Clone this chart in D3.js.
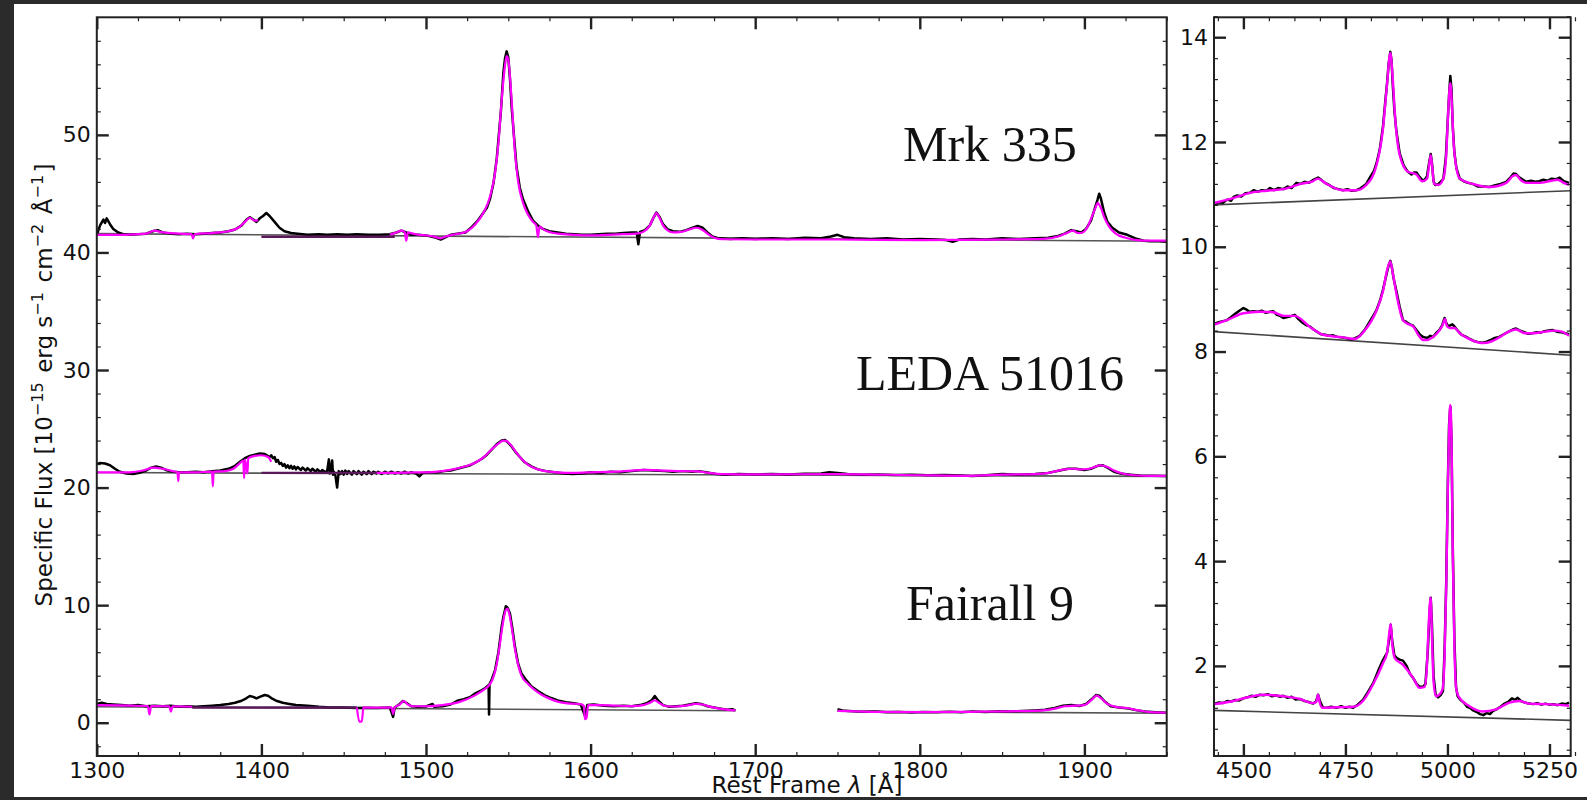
<!DOCTYPE html>
<html>
<head>
<meta charset="UTF-8" />
<title>UV and optical spectra</title>
<script src="https://d3js.org/d3.v7.min.js"></script>
<style>
body { margin: 0; background: #2b2b2b; }
svg text { font-family: "DejaVu Sans", sans-serif; fill: #111; }
</style>
</head>
<body>
<svg id="chart"></svg>
<script>
// ---- values: [wavelength (A), flux] ----
var mrkUvData = [[1300,41.5],[1302,42.3],[1304,42.8],[1305,42.5],[1306,42.9],[1308,42.4],[1310,42.0],[1313,41.7],[1316,41.55],[1320,41.5],[1325,41.55],[1330,41.6],[1334,41.8],[1337,41.9],[1340,41.7],[1345,41.6],[1350,41.55],[1355,41.6],[1360,41.55],[1365,41.6],[1370,41.65],[1375,41.7],[1380,41.8],[1384,41.95],[1388,42.3],[1391,42.8],[1393,43.0],[1395,42.8],[1397,42.6],[1399,42.9],[1401,43.1],[1403,43.35],[1405,43.1],[1408,42.6],[1411,42.1],[1414,41.8],[1418,41.65],[1422,41.6],[1428,41.5],[1435,41.55],[1440,41.5],[1446,41.55],[1452,41.5],[1458,41.55],[1465,41.5],[1472,41.5],[1478,41.55],[1482,41.7],[1485,41.85],[1488,41.7],[1491,41.5],[1495,41.5],[1500,41.45],[1505,41.3],[1509,41.1],[1512,41.3],[1515,41.5],[1519,41.6],[1524,41.7],[1528,42.2],[1531,42.64],[1534,43.2],[1537,43.8],[1539,44.6],[1541,45.9],[1543,48.0],[1544,49.6],[1545.5,52],[1547,55.3],[1548,56.5],[1549,57.1],[1550,56.6],[1551,54.8],[1552,52.4],[1553.5,49.8],[1555,47.3],[1557,45.5],[1559,44.5],[1562,43.5],[1565,42.7],[1568,42.3],[1571,42.0],[1575,41.8],[1580,41.7],[1585,41.6],[1590,41.55],[1595,41.5],[1600,41.5],[1605,41.55],[1610,41.6],[1615,41.6],[1620,41.65],[1625,41.7],[1628,41.7],[1629,40.7],[1630,41.75],[1633,41.9],[1636,42.3],[1638,42.9],[1640,43.4],[1642,43.0],[1644,42.4],[1647,41.95],[1650,41.8],[1654,41.75],[1658,41.9],[1662,42.1],[1665,42.25],[1668,42.1],[1671,41.7],[1674,41.35],[1678,41.2],[1685,41.15],[1692,41.2],[1700,41.15],[1710,41.2],[1720,41.15],[1730,41.25],[1740,41.2],[1746,41.35],[1750,41.5],[1754,41.3],[1760,41.2],[1770,41.15],[1780,41.2],[1790,41.1],[1800,41.15],[1810,41.1],[1816,41.05],[1820,40.9],[1824,41.1],[1832,41.15],[1840,41.1],[1850,41.2],[1860,41.15],[1870,41.2],[1878,41.25],[1884,41.4],[1888,41.6],[1892,41.9],[1895,41.8],[1898,41.7],[1901,42.0],[1904,42.7],[1906,43.6],[1908,44.5],[1909,45.0],[1910,44.6],[1912,43.4],[1914,42.6],[1917,42.1],[1921,41.7],[1926,41.5],[1931,41.2],[1936,41.0],[1940,40.95],[1945,40.95],[1950,40.9]]
var mrkUvModelA = [[1300,41.5],[1310,41.5],[1320,41.52],[1330,41.6],[1335,41.85],[1340,41.7],[1350,41.6],[1357.5,41.55],[1358.5,41.2],[1359.5,41.55],[1370,41.65],[1380,41.8],[1386,42.1],[1390,42.6],[1393,42.95],[1396,42.7],[1398,42.75]]
var mrkUvMask = [[1400,41.33],[1481,41.33]]
var mrkUvModelB = [[1478,41.5],[1482,41.7],[1485,41.85],[1487,41.75],[1488,41.0],[1489,41.7],[1492,41.6],[1496,41.5],[1500,41.45],[1505,41.35],[1509,41.2],[1512,41.35],[1516,41.5],[1520,41.6],[1525,41.8],[1530,42.4],[1535,43.4],[1539,44.8],[1542,46.8],[1544,49.3],[1546,53.0],[1548,55.9],[1549,56.7],[1550,56.4],[1552,53.0],[1554,48.6],[1556,46.0],[1559,44.2],[1562,43.2],[1565,42.6],[1567,42.3],[1568,41.3],[1569,42.2],[1572,41.9],[1576,41.7],[1580,41.6],[1590,41.5],[1600,41.45],[1610,41.5],[1620,41.55],[1628,41.6],[1632,41.75],[1636,42.3],[1638,42.9],[1640,43.35],[1642,42.9],[1644,42.3],[1647,41.85],[1650,41.7],[1655,41.75],[1660,41.95],[1664,42.1],[1667,42.0],[1671,41.6],[1675,41.25],[1680,41.12],[1700,41.1],[1750,41.1],[1800,41.05],[1850,41.1],[1875,41.15],[1885,41.4],[1890,41.7],[1893,41.85],[1896,41.65],[1899,41.7],[1902,42.2],[1905,43.2],[1907,43.9],[1908,44.2],[1910,43.8],[1912,43.0],[1915,42.2],[1919,41.6],[1925,41.25],[1932,41.05],[1940,41.0],[1950,41.0]]
var mrkUvCont = [[1300,41.6],[1950,40.95]]

var ledaUvData = [[1300,22.0],[1302,22.1],[1305,22.05],[1308,21.9],[1311,21.6],[1314,21.35],[1318,21.2],[1322,21.15],[1326,21.25],[1330,21.45],[1333,21.7],[1336,21.8],[1339,21.7],[1342,21.5],[1346,21.35],[1350,21.3],[1355,21.3],[1360,21.35],[1365,21.3],[1370,21.4],[1375,21.45],[1380,21.6],[1384,21.85],[1387,22.2],[1390,22.5],[1393,22.7],[1396,22.8],[1399,22.9],[1402,22.85],[1405,22.6],[1406,22.75],[1407,22.5],[1408,22.6],[1409,22.2],[1410,22.35],[1411,22.0],[1412,22.1],[1413,21.85],[1414,22.0],[1415,21.7],[1416,21.9],[1417,21.65],[1418,21.85],[1419,21.6],[1420,21.8],[1421,21.55],[1422,21.75],[1424,21.5],[1425,21.7],[1427,21.45],[1428,21.65],[1430,21.4],[1431,21.6],[1433,21.35],[1434,21.55],[1436,21.3],[1437,21.5],[1439,21.3],[1440,21.45],[1441,22.4],[1441.5,21.2],[1442,21.4],[1443,22.3],[1443.5,21.1],[1444,21.35],[1445,21.0],[1446,20.0],[1447,21.4],[1448,21.15],[1449,21.4],[1450,21.1],[1451,21.45],[1452,21.15],[1453,21.4],[1455,21.1],[1456,21.4],[1458,21.15],[1459,21.4],[1461,21.1],[1462,21.35],[1464,21.15],[1465,21.4],[1467,21.15],[1468,21.35],[1470,21.2],[1471,21.35],[1473,21.15],[1475,21.35],[1477,21.2],[1479,21.35],[1481,21.2],[1483,21.3],[1485,21.2],[1487,21.35],[1489,21.2],[1491,21.3],[1494,21.2],[1496,20.95],[1498,21.25],[1502,21.3],[1507,21.3],[1511,21.4],[1515,21.45],[1519,21.6],[1523,21.75],[1527,21.9],[1531,22.2],[1534,22.45],[1537,22.8],[1540,23.25],[1543,23.7],[1546,24.0],[1548,24.05],[1550,23.8],[1552,23.5],[1554,23.1],[1557,22.6],[1560,22.15],[1564,21.8],[1568,21.55],[1573,21.4],[1578,21.3],[1584,21.2],[1589,21.15],[1595,21.2],[1600,21.3],[1606,21.25],[1612,21.35],[1618,21.3],[1625,21.4],[1632,21.5],[1638,21.45],[1645,21.4],[1650,21.35],[1656,21.4],[1662,21.35],[1666,21.4],[1670,21.3],[1676,21.15],[1682,21.1],[1690,21.15],[1700,21.12],[1710,21.15],[1720,21.12],[1730,21.18],[1740,21.2],[1745,21.3],[1750,21.25],[1756,21.15],[1765,21.1],[1775,21.12],[1785,21.08],[1795,21.1],[1805,21.05],[1815,21.08],[1825,21.02],[1832,20.98],[1840,21.05],[1850,21.15],[1860,21.1],[1870,21.15],[1878,21.25],[1885,21.45],[1890,21.6],[1895,21.6],[1900,21.5],[1904,21.6],[1908,21.85],[1911,21.9],[1914,21.7],[1918,21.35],[1922,21.2],[1928,21.1],[1935,21.0],[1942,21.0],[1950,20.98]]
var ledaUvModelA = [[1300,21.3],[1310,21.3],[1320,21.3],[1328,21.45],[1334,21.7],[1340,21.6],[1346,21.4],[1349,21.3],[1349.5,20.55],[1350,21.3],[1360,21.3],[1370,21.35],[1370.5,20.1],[1371,21.35],[1378,21.4],[1383,21.6],[1386,21.95],[1389,22.3],[1389.5,20.8],[1390,22.4],[1391.5,21.2],[1392,22.5],[1396,22.7],[1400,22.75],[1404,22.6],[1406,22.2]]
var ledaUvMask = [[1400,21.25],[1470,21.25]]
var ledaUvModelB = [[1470,21.25],[1480,21.25],[1490,21.28],[1500,21.3],[1510,21.4],[1518,21.6],[1525,21.85],[1531,22.2],[1536,22.7],[1541,23.4],[1545,23.85],[1547,24.0],[1549,23.95],[1552,23.55],[1555,22.95],[1559,22.3],[1563,21.85],[1568,21.55],[1575,21.35],[1585,21.25],[1600,21.3],[1615,21.35],[1625,21.45],[1633,21.5],[1645,21.45],[1655,21.4],[1665,21.38],[1672,21.25],[1680,21.15],[1700,21.12],[1750,21.15],[1800,21.05],[1830,21.0],[1850,21.1],[1870,21.15],[1880,21.3],[1888,21.55],[1893,21.6],[1898,21.55],[1903,21.6],[1908,21.85],[1910,21.9],[1914,21.75],[1918,21.45],[1923,21.2],[1930,21.05],[1940,21.0],[1950,21.0]]
var ledaUvCont = [[1300,21.28],[1950,20.95]]

var f9UvDataA = [[1300,1.6],[1303,1.7],[1306,1.6],[1310,1.55],[1315,1.5],[1320,1.45],[1325,1.5],[1330,1.4],[1335,1.45],[1340,1.4],[1345,1.45],[1350,1.35],[1355,1.4],[1360,1.36],[1365,1.4],[1370,1.45],[1375,1.5],[1380,1.6],[1384,1.7],[1388,1.87],[1391,2.1],[1393,2.27],[1395,2.2],[1397,2.07],[1399,2.2],[1402,2.36],[1404,2.3],[1406,2.1],[1409,1.87],[1413,1.7],[1417,1.6],[1421,1.5],[1428,1.45],[1435,1.35],[1442,1.3],[1450,1.3],[1458,1.25],[1465,1.28],[1470,1.25],[1474,1.27],[1478,1.3],[1480,0.5],[1481,1.3],[1484,1.6],[1486,1.85],[1488,1.7],[1491,1.4],[1495,1.35],[1500,1.38],[1504,1.6],[1505,1.35],[1510,1.4],[1515,1.55],[1519,1.87],[1523,2.0],[1527,2.2],[1530,2.5],[1533,2.7],[1536,2.95],[1538,3.2],[1538.3,0.7],[1538.6,3.3],[1540,3.7],[1542,4.5],[1544,6.0],[1546,8.2],[1547,9.0],[1548.5,9.9],[1549.5,9.8],[1551,9.3],[1552.5,8.0],[1554,6.5],[1556,5.0],[1558,4.2],[1561,3.6],[1564,3.1],[1568,2.7],[1572,2.35],[1576,2.1],[1580,1.9],[1585,1.75],[1590,1.65],[1594,1.55],[1596.5,0.6],[1598,1.5],[1602,1.55],[1608,1.45],[1614,1.4],[1620,1.45],[1625,1.4],[1630,1.5],[1634,1.65],[1637,1.9],[1639,2.27],[1641,1.9],[1644,1.5],[1648,1.35],[1652,1.4],[1656,1.45],[1660,1.55],[1664,1.65],[1667,1.6],[1671,1.4],[1675,1.3],[1679,1.2],[1683,1.1],[1686,1.15],[1688,1.05]]
var f9UvDataB = [[1750,1.15],[1753,1.05],[1757,1.0],[1762,0.95],[1767,0.93],[1773,0.95],[1780,0.9],[1787,0.92],[1795,0.88],[1802,0.92],[1810,0.9],[1818,0.93],[1825,0.9],[1832,0.95],[1840,0.92],[1848,0.98],[1855,0.96],[1862,1.0],[1870,1.05],[1876,1.1],[1882,1.25],[1887,1.45],[1892,1.5],[1897,1.42],[1901,1.6],[1904,1.95],[1907,2.35],[1909,2.3],[1912,1.85],[1916,1.4],[1921,1.3],[1927,1.2],[1932,1.05],[1937,0.95],[1943,0.9],[1950,0.85]]
var f9UvModelA = [[1300,1.5],[1320,1.45],[1331,1.42],[1332,0.7],[1333,1.42],[1344,1.4],[1345,0.95],[1346,1.4],[1358,1.36]]
var f9UvMask = [[1358,1.3],[1458,1.3]]
var f9UvModelB = [[1458,1.3],[1459.5,0.1],[1461,0.1],[1462,1.3],[1470,1.28],[1479,1.3],[1480,0.75],[1481,1.3],[1484,1.55],[1486.5,1.85],[1489,1.55],[1492,1.4],[1500,1.4],[1510,1.5],[1520,1.75],[1530,2.35],[1536,2.9],[1539,3.3],[1541,3.9],[1543,5.0],[1545,6.8],[1547,8.7],[1548.5,9.6],[1549.5,9.7],[1551,9.0],[1552.5,7.7],[1554,6.3],[1556,4.9],[1558,4.0],[1562,3.3],[1566,2.8],[1570,2.4],[1575,2.05],[1580,1.8],[1586,1.65],[1594,1.58],[1596,1.4],[1596.5,0.3],[1597.5,0.4],[1598.5,1.5],[1605,1.5],[1615,1.45],[1625,1.42],[1632,1.5],[1636,1.7],[1639,1.9],[1642,1.65],[1646,1.4],[1652,1.38],[1658,1.45],[1664,1.6],[1668,1.55],[1673,1.35],[1680,1.15],[1688,1.05]]
var f9UvModelC = [[1750,1.0],[1770,0.93],[1800,0.9],[1830,0.93],[1860,0.98],[1875,1.05],[1882,1.2],[1888,1.4],[1895,1.45],[1900,1.5],[1904,1.9],[1907.5,2.3],[1910,2.1],[1914,1.6],[1919,1.35],[1926,1.25],[1933,1.05],[1940,0.9],[1950,0.85]]
var f9UvContA = [[1300,1.36],[1688,1.02]]
var f9UvContB = [[1750,0.97],[1950,0.8]]

var mrkOptData = [[4430,10.82],[4440,10.85],[4450,10.84],[4460,10.9],[4470,10.88],[4476,10.95],[4485,10.98],[4495,10.96],[4505,11.02],[4516,11.03],[4525,11.08],[4535,11.05],[4545,11.08],[4557,11.07],[4565,11.12],[4575,11.08],[4585,11.12],[4598,11.1],[4608,11.15],[4618,11.12],[4630,11.22],[4640,11.2],[4650,11.24],[4660,11.22],[4670,11.27],[4683,11.32],[4692,11.27],[4700,11.22],[4712,11.17],[4722,11.12],[4733,11.1],[4744,11.08],[4755,11.1],[4765,11.07],[4777,11.08],[4788,11.12],[4801,11.2],[4812,11.35],[4820,11.45],[4826,11.59],[4834,11.85],[4842,12.29],[4848,12.8],[4852,13.12],[4856,13.5],[4860,13.72],[4863,13.55],[4866,13.1],[4870,12.6],[4875,12.2],[4883,11.78],[4893,11.55],[4903,11.43],[4912,11.38],[4918,11.42],[4924,11.42],[4930,11.35],[4938,11.28],[4944,11.27],[4950,11.35],[4955,11.6],[4959,11.77],[4962,11.6],[4966,11.25],[4970,11.18],[4978,11.2],[4985,11.25],[4990,11.3],[4996,11.7],[5000,12.3],[5004,12.9],[5007,13.26],[5010,13.0],[5013,12.3],[5017,11.8],[5022,11.5],[5030,11.3],[5040,11.25],[5050,11.22],[5062,11.2],[5075,11.15],[5090,11.15],[5103,11.14],[5115,11.17],[5130,11.2],[5144,11.24],[5155,11.33],[5162,11.4],[5168,11.39],[5175,11.33],[5185,11.28],[5193,11.24],[5205,11.26],[5215,11.24],[5225,11.25],[5235,11.28],[5245,11.26],[5255,11.3],[5266,11.29],[5275,11.32],[5285,11.25],[5298,11.22]]
var mrkOptModel = [[4430,10.84],[4475,10.93],[4516,11.03],[4557,11.07],[4598,11.1],[4640,11.2],[4670,11.25],[4683,11.3],[4700,11.22],[4744,11.08],[4777,11.08],[4801,11.18],[4826,11.55],[4842,12.25],[4852,13.1],[4860,13.7],[4866,13.2],[4872,12.45],[4883,11.75],[4903,11.43],[4924,11.38],[4938,11.25],[4950,11.3],[4955,11.55],[4959,11.75],[4963,11.5],[4967,11.2],[4978,11.18],[4990,11.3],[4997,11.75],[5002,12.6],[5007,13.12],[5011,12.7],[5015,12.0],[5020,11.6],[5030,11.3],[5062,11.2],[5103,11.14],[5144,11.22],[5160,11.35],[5168,11.37],[5180,11.27],[5193,11.22],[5225,11.22],[5255,11.26],[5270,11.28],[5285,11.22],[5298,11.18]]
var mrkOptCont = [[4428,10.8],[5302,11.07]]

var ledaOptData = [[4430,8.53],[4440,8.56],[4450,8.58],[4460,8.6],[4470,8.66],[4480,8.72],[4490,8.78],[4500,8.83],[4508,8.8],[4515,8.76],[4525,8.77],[4535,8.76],[4545,8.78],[4555,8.74],[4565,8.76],[4573,8.77],[4582,8.7],[4590,8.68],[4598,8.64],[4608,8.66],[4618,8.68],[4626,8.7],[4635,8.62],[4645,8.55],[4655,8.5],[4663,8.48],[4672,8.42],[4680,8.38],[4690,8.33],[4700,8.32],[4710,8.3],[4720,8.31],[4730,8.28],[4744,8.27],[4755,8.25],[4765,8.23],[4773,8.25],[4785,8.3],[4797,8.41],[4808,8.55],[4818,8.68],[4826,8.79],[4835,8.98],[4842,9.18],[4850,9.45],[4856,9.65],[4860,9.73],[4864,9.6],[4868,9.4],[4875,9.15],[4883,8.85],[4891,8.6],[4900,8.56],[4908,8.52],[4915,8.5],[4925,8.4],[4933,8.32],[4940,8.28],[4950,8.26],[4958,8.3],[4965,8.28],[4972,8.35],[4980,8.41],[4987,8.5],[4993,8.64],[4997,8.55],[5002,8.48],[5007,8.5],[5012,8.52],[5017,8.48],[5025,8.4],[5035,8.32],[5046,8.28],[5055,8.24],[5065,8.2],[5075,8.18],[5086,8.17],[5096,8.19],[5106,8.22],[5116,8.26],[5127,8.28],[5138,8.33],[5150,8.38],[5160,8.42],[5168,8.44],[5178,8.4],[5188,8.37],[5198,8.34],[5208,8.35],[5218,8.37],[5228,8.36],[5238,8.39],[5248,8.4],[5258,8.41],[5268,8.38],[5278,8.37],[5288,8.35],[5298,8.33]]
var ledaOptModel = [[4430,8.52],[4460,8.6],[4500,8.73],[4541,8.76],[4573,8.75],[4600,8.68],[4626,8.68],[4663,8.47],[4695,8.32],[4744,8.27],[4773,8.24],[4797,8.4],[4826,8.78],[4842,9.15],[4852,9.55],[4860,9.72],[4866,9.5],[4875,9.1],[4891,8.6],[4905,8.52],[4916,8.48],[4930,8.3],[4940,8.22],[4950,8.22],[4965,8.28],[4980,8.4],[4988,8.5],[4994,8.62],[4998,8.5],[5005,8.45],[5017,8.45],[5030,8.35],[5046,8.27],[5065,8.2],[5086,8.16],[5110,8.2],[5127,8.27],[5150,8.38],[5168,8.42],[5190,8.35],[5210,8.35],[5240,8.38],[5260,8.4],[5280,8.38],[5298,8.3]]
var ledaOptCont = [[4428,8.38],[5302,7.93]]

var f9OptData = [[4430,1.28],[4440,1.3],[4450,1.29],[4460,1.33],[4470,1.32],[4480,1.35],[4490,1.34],[4500,1.38],[4510,1.4],[4520,1.43],[4530,1.41],[4540,1.45],[4549,1.44],[4560,1.46],[4570,1.42],[4580,1.44],[4590,1.41],[4598,1.43],[4608,1.39],[4618,1.41],[4628,1.36],[4638,1.37],[4650,1.33],[4660,1.31],[4671,1.28],[4678,1.32],[4683,1.45],[4688,1.32],[4695,1.2],[4705,1.2],[4715,1.22],[4728,1.2],[4740,1.23],[4750,1.2],[4760,1.22],[4769,1.2],[4780,1.26],[4793,1.35],[4805,1.5],[4818,1.67],[4830,1.9],[4842,2.11],[4852,2.25],[4857,2.5],[4861,2.78],[4865,2.45],[4870,2.2],[4876,2.15],[4883,2.12],[4891,2.1],[4900,2.0],[4908,1.85],[4915,1.78],[4925,1.65],[4932,1.6],[4940,1.6],[4946,1.65],[4952,2.3],[4956,3.0],[4959,3.3],[4962,2.8],[4966,1.8],[4971,1.45],[4977,1.4],[4984,1.45],[4989,1.52],[4993,2.3],[4997,3.6],[5001,5.5],[5004,6.6],[5007,6.95],[5010,6.3],[5013,4.3],[5017,2.5],[5021,1.6],[5025,1.42],[5032,1.35],[5040,1.3],[5048,1.22],[5055,1.2],[5063,1.15],[5072,1.12],[5080,1.08],[5088,1.06],[5096,1.1],[5104,1.08],[5112,1.14],[5120,1.17],[5130,1.22],[5140,1.28],[5150,1.32],[5158,1.38],[5165,1.35],[5172,1.39],[5180,1.33],[5190,1.3],[5200,1.28],[5210,1.27],[5220,1.29],[5230,1.26],[5240,1.28],[5250,1.26],[5260,1.27],[5270,1.25],[5280,1.28],[5290,1.27],[5298,1.3]]
var f9OptModel = [[4430,1.27],[4470,1.32],[4516,1.41],[4549,1.45],[4598,1.42],[4638,1.37],[4671,1.29],[4679,1.32],[4683,1.45],[4687,1.3],[4693,1.2],[4728,1.21],[4769,1.22],[4793,1.33],[4818,1.65],[4842,2.05],[4852,2.25],[4857,2.6],[4861,2.8],[4865,2.4],[4871,2.15],[4891,2.02],[4915,1.78],[4932,1.58],[4944,1.6],[4949,1.9],[4953,2.6],[4957,3.2],[4959,3.3],[4962,2.6],[4966,1.7],[4972,1.42],[4980,1.45],[4988,1.55],[4993,2.2],[4997,3.5],[5001,5.4],[5004,6.5],[5007,6.98],[5010,6.3],[5013,4.2],[5017,2.4],[5021,1.6],[5027,1.42],[5054,1.23],[5086,1.13],[5119,1.17],[5152,1.3],[5176,1.33],[5200,1.28],[5240,1.27],[5298,1.24]]
var f9OptCont = [[4428,1.15],[5302,0.96]]

var objectNames = ["Mrk 335", "LEDA 51016", "Fairall 9"]
var nameFlux = [47.8, 28.3, 8.7]
var nameLambda = 1842.6

var uvXTicks = [1300, 1400, 1500, 1600, 1700, 1800, 1900]
var uvYTicks = [0, 10, 20, 30, 40, 50]
var optXTicks = [4500, 4750, 5000, 5250]
var optYTicks = [2, 4, 6, 8, 10, 12, 14]

// ---- layout ----
var W = 1587, H = 800
var magenta = "#ff00ff"

var svg = d3.select("#chart").attr("width", W).attr("height", H)
svg.append("rect").attr("width", W).attr("height", H).attr("fill", "#2b2b2b")
svg.append("rect").attr("x", 14).attr("y", 4).attr("width", W - 14).attr("height", 793).attr("fill", "#fff")

var uvX = d3.scaleLinear().domain([1300, 1950]).range([96.8, 1166.7])
var uvY = d3.scaleLinear().domain([-2.83, 60]).range([756, 17.3])
var optX = d3.scaleLinear().domain([4428, 5302]).range([1214, 1570.7])
var optY = d3.scaleLinear().domain([0.28, 14.38]).range([756, 17.3])

function range(a, b, step) {
	return d3.range(Math.round(a / step), Math.round(b / step) + 1).map(function (i) { return +(i * step).toFixed(4) })
}

function panel(id, x, y, xMajor, xMinor, yMajor, yMinor) {
	var x0 = x.range()[0], x1 = x.range()[1], y0 = y.range()[1], y1 = y.range()[0]
	var g = svg.append("g").attr("id", id)

	svg.append("clipPath").attr("id", "clip-" + id)
		.append("rect").attr("x", x0).attr("y", y0).attr("width", x1 - x0).attr("height", y1 - y0)

	var plot = g.append("g").attr("clip-path", "url(#clip-" + id + ")")

	function addAxis(axis, tr, size, fmt, cls) {
		var a = g.append("g").attr("class", cls).attr("transform", tr)
			.call(axis.tickSize(size).tickPadding(7).tickFormat(fmt))
		a.select(".domain").remove()
		a.selectAll("line").attr("stroke", "#222")
		a.selectAll("text").style("font-size", "22px").attr("fill", "#111")
		return a
	}
	var noLab = function () { return "" }
	var xMin = xMinor.filter(function (v) { return xMajor.indexOf(v) < 0 })
	var yMin = yMinor.filter(function (v) { return yMajor.indexOf(v) < 0 })

	// bottom / top
	addAxis(d3.axisBottom(x).tickValues(xMajor), "translate(0," + y1 + ")", -12, d3.format("d"), "major")
		.selectAll("text").attr("dy", "0.71em").attr("y", 6)
	addAxis(d3.axisBottom(x).tickValues(xMin), "translate(0," + y1 + ")", -4, noLab, "minor")
	addAxis(d3.axisTop(x).tickValues(xMajor), "translate(0," + y0 + ")", -12, noLab, "major")
	addAxis(d3.axisTop(x).tickValues(xMin), "translate(0," + y0 + ")", -4, noLab, "minor")
	// left / right
	addAxis(d3.axisLeft(y).tickValues(yMajor), "translate(" + x0 + ",0)", -12, d3.format("d"), "major")
		.selectAll("text").attr("x", -6)
	addAxis(d3.axisLeft(y).tickValues(yMin), "translate(" + x0 + ",0)", -4, noLab, "minor")
	addAxis(d3.axisRight(y).tickValues(yMajor), "translate(" + x1 + ",0)", -12, noLab, "major")
	addAxis(d3.axisRight(y).tickValues(yMin), "translate(" + x1 + ",0)", -4, noLab, "minor")

	g.selectAll(".major line").attr("stroke-width", 2.4)
	g.selectAll(".minor line").attr("stroke-width", 1.2)

	g.append("rect").attr("x", x0).attr("y", y0).attr("width", x1 - x0).attr("height", y1 - y0)
		.attr("fill", "none").attr("stroke", "#222").attr("stroke-width", 2)

	return plot
}

function drawLine(plot, x, y, data, color, width, curve) {
	var line = d3.line()
		.x(function (d) { return x(d[0]) })
		.y(function (d) { return y(d[1]) })
		.curve(curve || d3.curveLinear)
	plot.append("path").datum(data)
		.attr("d", line)
		.attr("fill", "none")
		.attr("stroke", color)
		.attr("stroke-width", width)
		.attr("stroke-linejoin", "round")
}

// ---- UV panel ----
var uv = panel("uv", uvX, uvY, uvXTicks, range(1300, 1950, 25), uvYTicks, range(-2, 58, 2))
;[mrkUvCont, ledaUvCont, f9UvContA, f9UvContB].forEach(function (c) { drawLine(uv, uvX, uvY, c, "#555", 1.6) })
;[mrkUvData, ledaUvData, f9UvDataA, f9UvDataB].forEach(function (s) { drawLine(uv, uvX, uvY, s, "#000", 2.5) })
;[mrkUvMask, ledaUvMask, f9UvMask].forEach(function (s) { drawLine(uv, uvX, uvY, s, "#5a1a5a", 2.4) })
;[mrkUvModelA, mrkUvModelB, ledaUvModelA, ledaUvModelB, f9UvModelA, f9UvModelB, f9UvModelC].forEach(function (s) {
	drawLine(uv, uvX, uvY, s, magenta, 2.2, d3.curveMonotoneX)
})

// ---- optical panel ----
var opt = panel("opt", optX, optY, optXTicks, range(4437.5, 5300, 62.5), optYTicks, range(0.4, 14.4, 0.4))
;[mrkOptCont, ledaOptCont, f9OptCont].forEach(function (c) { drawLine(opt, optX, optY, c, "#444", 1.6) })
;[mrkOptData, ledaOptData, f9OptData].forEach(function (s) { drawLine(opt, optX, optY, s, "#000", 2.5) })
;[mrkOptModel, ledaOptModel, f9OptModel].forEach(function (s) { drawLine(opt, optX, optY, s, magenta, 2.4, d3.curveMonotoneX) })

// ---- object names ----
svg.selectAll(".objname").data(objectNames).enter().append("text")
	.attr("class", "objname")
	.attr("x", uvX(nameLambda))
	.attr("y", function (d, i) { return uvY(nameFlux[i]) })
	.attr("text-anchor", "middle")
	.style("font-family", "'Liberation Serif', 'Times New Roman', serif")
	.style("font-size", "50px")
	.text(function (d) { return d })

// ---- axis titles ----
var yt = svg.append("text")
	.attr("transform", "translate(52,385) rotate(-90)")
	.attr("text-anchor", "middle")
	.style("font-size", "23px")
function sup(t, s) {
	t.append("tspan").attr("dy", -9).style("font-size", "16px").text(s)
	t.append("tspan").attr("dy", 9).text("\u200a")
}
yt.append("tspan").text("Specific Flux [10")
sup(yt, "\u221215")
yt.append("tspan").text(" erg s")
sup(yt, "\u22121")
yt.append("tspan").text(" cm")
sup(yt, "\u22122")
yt.append("tspan").text(" \u00c5")
sup(yt, "\u22121")
yt.append("tspan").text("]")

// sits low and overlaps the tick labels, as in the original figure
var xt = svg.append("text")
	.attr("x", 807).attr("y", 793)
	.attr("text-anchor", "middle")
	.style("font-size", "23px")
xt.append("tspan").text("Rest Frame ")
xt.append("tspan").style("font-style", "italic").text("\u03bb")
xt.append("tspan").text(" [\u00c5]")
</script>
</body>
</html>
